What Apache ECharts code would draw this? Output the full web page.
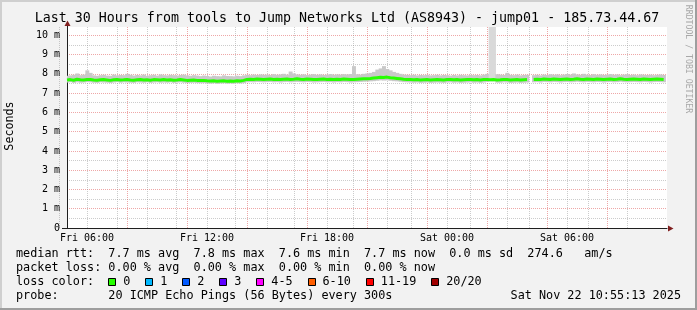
<!DOCTYPE html>
<html><head><meta charset="utf-8">
<script src="https://cdn.jsdelivr.net/npm/echarts@6/dist/echarts.min.js"></script>
<style>html,body{margin:0;padding:0;background:#f2f2f2}#c{width:697px;height:310px}</style>
</head><body><div id="c"></div>
<script>
// ---- data (values in ms) ----
const titleText = 'Last 30 Hours from tools to Jump Networks Ltd (AS8943) - jump01 - 185.73.44.67';
const tickLabels = ['Fri 06:00', 'Fri 12:00', 'Fri 18:00', 'Sat 00:00', 'Sat 06:00'];
const startHour = -1;          // hours relative to Fri 06:00
const stepMinutes = 10;
const median = [
7.68,7.70,7.67,7.72,7.69,7.68,7.70,7.71,7.68,7.67,
7.69,7.70,7.68,7.66,7.69,7.70,7.68,7.69,7.71,7.68,
7.67,7.69,7.70,7.68,7.69,7.67,7.70,7.69,7.68,7.70,
7.68,7.69,7.67,7.68,7.70,7.68,7.66,7.67,7.68,7.66,
7.65,7.66,7.64,7.63,7.64,7.62,7.63,7.64,7.62,7.63,
7.62,7.64,7.63,7.66,7.71,7.72,7.71,7.73,7.72,7.71,
7.72,7.73,7.71,7.72,7.70,7.72,7.73,7.71,7.72,7.74,
7.72,7.71,7.73,7.72,7.70,7.71,7.72,7.73,7.71,7.72,
7.70,7.72,7.71,7.73,7.72,7.70,7.71,7.72,7.73,7.74,
7.75,7.76,7.78,7.80,7.82,7.81,7.83,7.80,7.78,7.76,
7.74,7.72,7.71,7.70,7.69,7.70,7.68,7.69,7.70,7.68,
7.69,7.70,7.69,7.68,7.70,7.71,7.69,7.70,7.68,7.69,
7.70,7.71,7.69,7.70,7.68,7.70,7.71,7.69,7.70,7.68,
7.69,7.71,7.70,7.68,7.69,7.70,7.68,7.69,7.70,null,
7.71,7.72,7.70,7.73,7.72,7.71,7.73,7.72,7.70,7.72,
7.73,7.71,7.72,7.74,7.72,7.71,7.73,7.72,7.71,7.73,
7.72,7.70,7.72,7.73,7.71,7.72,7.74,7.72,7.71,7.72,
7.73,7.72,7.71,7.73,7.72,7.70,7.72,7.73,7.72,7.71
];
const smokeHi = [
7.90,7.92,7.95,8.02,7.93,7.96,8.18,8.05,7.92,7.90,
7.93,7.95,7.91,7.90,7.96,7.92,7.94,7.93,8.00,7.95,
7.91,7.94,7.92,7.96,7.90,7.93,7.95,7.91,7.97,7.93,
7.92,7.95,7.93,7.91,7.94,7.96,7.92,7.90,7.93,7.91,
7.88,7.91,7.89,7.86,7.90,7.88,7.87,7.92,7.89,7.88,
7.87,7.90,7.88,7.92,7.95,7.93,7.96,7.94,7.97,7.95,
7.96,7.94,7.98,7.95,7.97,8.00,7.96,8.12,8.02,7.97,
7.95,7.97,7.94,7.96,7.98,7.95,7.97,7.94,7.96,7.99,
7.95,7.97,7.96,7.98,7.97,7.99,8.40,7.98,7.96,8.00,
8.02,8.05,8.10,8.22,8.28,8.40,8.25,8.18,8.10,8.05,
8.00,7.96,7.95,7.93,7.95,7.92,7.94,7.93,7.95,7.92,
7.93,7.95,7.92,7.94,7.93,7.91,7.94,7.92,7.95,7.93,
7.92,7.95,7.93,7.94,7.92,7.96,8.00,10.43,10.43,7.98,
7.96,7.94,8.05,7.95,7.93,7.96,7.92,7.94,7.95,null,
7.93,7.95,7.92,7.96,7.94,7.98,7.95,7.97,7.93,7.96,
7.99,7.96,8.02,7.97,7.95,8.00,7.96,7.94,7.98,7.95,
7.97,7.94,7.96,7.99,7.95,7.97,7.93,7.96,7.98,7.94,
7.96,7.93,7.97,7.95,7.94,7.96,7.93,7.95,7.97,7.94
];
const smokeLo = [
7.55,7.57,7.53,7.56,7.54,7.55,7.57,7.56,7.54,7.53,
7.56,7.55,7.54,7.52,7.55,7.57,7.54,7.56,7.55,7.54,
7.53,7.56,7.55,7.54,7.56,7.53,7.55,7.56,7.54,7.55,
7.54,7.56,7.53,7.55,7.56,7.54,7.52,7.53,7.54,7.52,
7.51,7.52,7.50,7.49,7.51,7.48,7.50,7.51,7.49,7.50,
7.49,7.51,7.50,7.52,7.56,7.57,7.56,7.58,7.57,7.56,
7.57,7.58,7.56,7.57,7.55,7.57,7.58,7.56,7.57,7.58,
7.57,7.56,7.58,7.57,7.55,7.56,7.57,7.58,7.56,7.57,
7.55,7.57,7.56,7.58,7.57,7.55,7.56,7.57,7.58,7.59,
7.60,7.61,7.62,7.64,7.66,7.65,7.66,7.64,7.62,7.61,
7.59,7.57,7.56,7.55,7.54,7.55,7.53,7.54,7.55,7.53,
7.54,7.55,7.54,7.53,7.55,7.56,7.54,7.55,7.53,7.54,
7.55,7.56,7.54,7.55,7.53,7.55,7.58,7.60,7.60,7.54,
7.54,7.56,7.55,7.53,7.54,7.55,7.53,7.54,7.55,null,
7.56,7.57,7.55,7.58,7.57,7.56,7.58,7.57,7.55,7.57,
7.58,7.56,7.57,7.59,7.57,7.56,7.58,7.57,7.56,7.58,
7.57,7.55,7.57,7.58,7.56,7.57,7.59,7.57,7.56,7.57,
7.58,7.57,7.56,7.58,7.57,7.55,7.57,7.58,7.57,7.56
];
const lossLabels = ['0', '1', '2', '3', '4-5', '6-10', '11-19', '20/20'];
const lossColors = ['#26ff00', '#00b8ff', '#0059ff', '#5e00ff', '#ff00ff', '#ff5e00', '#ff0000', '#a10000'];
const statLines = [
  'median rtt:  7.7 ms avg  7.8 ms max  7.6 ms min  7.7 ms now  0.0 ms sd  274.6   am/s',
  'packet loss: 0.00 % avg  0.00 % max  0.00 % min  0.00 % now',
  'loss color:',
  'probe:       20 ICMP Echo Pings (56 Bytes) every 300s'
];
const dateText = 'Sat Nov 22 10:55:13 2025';

// ---- build ----
const MONO = "'DejaVu Sans Mono', monospace";
const X_MIN = -1, X_MAX = 29, Y_MAX = 10.43;
const PX_H = 20;                       // pixels per hour
const G = { left: 67, top: 27, width: (X_MAX - X_MIN) * PX_H, height: 201 };
const pxPerMs = G.height / Y_MAX;
const xs = median.map((_, i) => startHour + i * stepMinutes / 60);
const halfStep = stepMinutes / 120;
const medianData = median.map((v, i) => [xs[i], v]);
const smokeData = smokeHi.map((v, i) => [xs[i], smokeLo[i] == null ? '-' : smokeLo[i], v == null ? '-' : v]);

const MGRID = 'rgba(222,79,79,0.5)';
const GRID = 'rgba(143,143,143,0.45)';
const hiddenAxis = (extra) => Object.assign({ show: true, axisLine: { show: false }, axisTick: { show: false }, axisLabel: { show: false }, splitLine: { show: false } }, extra);

// helper grids whose own tick origin lines up with 3-hour steps
// red (major) lines on hours 0,3,6..; grey lines on hours 1,4,7.. and 2,5,8..
const shifts = [3, 2, 4];
const grids = [Object.assign({ show: true, backgroundColor: '#ffffff', borderWidth: 0 }, G)];
const xAxes = [{
  gridIndex: 0, type: 'value', min: X_MIN, max: X_MAX, interval: 1,
  axisLine: { show: true, onZero: false, lineStyle: { color: '#1f1f1f', width: 1 } },
  axisTick: { show: false },
  axisLabel: { margin: 5, color: '#000', fontFamily: MONO, fontSize: 10,
    formatter: v => (v >= 0 && Math.abs(v % 6) < 1e-9) ? (tickLabels[Math.round(v / 6)] || '') : '' },
  splitLine: { show: false }
}];
const yAxes = [{
  gridIndex: 0, type: 'value', min: 0, max: Y_MAX, interval: 1,
  axisLine: { show: true, onZero: false, lineStyle: { color: '#1f1f1f', width: 1 } },
  axisTick: { show: false },
  axisLabel: { margin: 7, color: '#000', fontFamily: MONO, fontSize: 10,
    formatter: v => (Math.abs(v - Math.round(v)) < 1e-9) ? (v === 0 ? '0' : Math.round(v) + ' m') : '' },
  splitLine: { show: true, showMinLine: false, showMaxLine: false, lineStyle: { type: [1, 1], width: 1, color: MGRID } }
}];
shifts.forEach((s, k) => {
  grids.push({ show: false, left: G.left - s * PX_H, top: G.top, width: (X_MAX + s) * PX_H, height: G.height });
  xAxes.push(hiddenAxis({ gridIndex: k + 1, type: 'value', min: 0, max: X_MAX + s, interval: 3,
    splitLine: { show: true, showMinLine: false, showMaxLine: false, lineStyle: { type: [1, 1], width: 1, color: k === 0 ? MGRID : GRID } } }));
  yAxes.push(hiddenAxis({ gridIndex: k + 1, type: 'value', min: 0, max: Y_MAX }));
});
// half-ms grey lines: grid shifted down by 0.5 ms
grids.push({ show: false, left: G.left, top: G.top, width: G.width, height: G.height + 0.5 * pxPerMs });
xAxes.push(hiddenAxis({ gridIndex: 4, type: 'value', min: X_MIN, max: X_MAX }));
yAxes.push(hiddenAxis({ gridIndex: 4, type: 'value', min: 0, max: Y_MAX + 0.5, interval: 1,
  splitLine: { show: true, showMinLine: false, showMaxLine: false, lineStyle: { type: [1, 1], width: 1, color: GRID } } }));

const graphic = [];
graphic.push({ type: 'rect', shape: { x: 0, y: 0, width: 697, height: 2 }, style: { fill: '#cfcfcf' }, silent: true });
graphic.push({ type: 'rect', shape: { x: 0, y: 0, width: 2, height: 310 }, style: { fill: '#cfcfcf' }, silent: true });
graphic.push({ type: 'rect', shape: { x: 695, y: 0, width: 2, height: 310 }, style: { fill: '#9e9e9e' }, silent: true });
graphic.push({ type: 'rect', shape: { x: 0, y: 308, width: 697, height: 2 }, style: { fill: '#9e9e9e' }, silent: true });
graphic.push({ type: 'text', x: 347, y: 19, style: { text: titleText, font: '13.3px ' + MONO, fill: '#000', align: 'center', verticalAlign: 'middle' }, silent: true });
graphic.push({ type: 'text', x: 688, y: 59, rotation: -Math.PI / 2, style: { text: 'RRDTOOL / TOBI OETIKER', font: '8.2px ' + MONO, fill: '#a8a8a8', align: 'center', verticalAlign: 'middle' }, silent: true });
graphic.push({ type: 'text', x: 10, y: 126, rotation: Math.PI / 2, style: { text: 'Seconds', font: '11.7px ' + MONO, fill: '#000', align: 'center', verticalAlign: 'middle' }, silent: true });
graphic.push({ type: 'line', shape: { x1: 62, y1: 228.5, x2: 67, y2: 228.5 }, style: { stroke: '#1f1f1f', lineWidth: 1 }, silent: true });
graphic.push({ type: 'line', shape: { x1: 67.5, y1: 23, x2: 67.5, y2: 27.5 }, style: { stroke: '#1f1f1f', lineWidth: 1 }, silent: true });
graphic.push({ type: 'polygon', shape: { points: [[64.5, 26], [67.5, 20.5], [70.5, 26]] }, style: { fill: '#801f1f' }, silent: true, z: 10 });
graphic.push({ type: 'polygon', shape: { points: [[668, 225.5], [673.5, 228.5], [668, 231.5]] }, style: { fill: '#801f1f' }, silent: true, z: 10 });
const lineY = [254.3, 268.2, 282.1, 296];
statLines.forEach((t, k) => {
  graphic.push({ type: 'text', x: 16, y: lineY[k], style: { text: t, font: '11.8px ' + MONO, fill: '#000', align: 'left', verticalAlign: 'middle' }, silent: true });
});
graphic.push({ type: 'text', x: 681, y: lineY[3], style: { text: dateText, font: '11.8px ' + MONO, fill: '#000', align: 'right', verticalAlign: 'middle' }, silent: true });
let lx = 108.3;
lossLabels.forEach((lab, k) => {
  const bx = Math.round(lx) + 0.5;
  graphic.push({ type: 'rect', shape: { x: bx, y: 278.5, width: 7, height: 7 }, style: { fill: lossColors[k], stroke: '#000', lineWidth: 1 }, silent: true });
  graphic.push({ type: 'text', x: lx + 15, y: lineY[2], style: { text: lab, font: '11.8px ' + MONO, fill: '#000', align: 'left', verticalAlign: 'middle' }, silent: true });
  lx += 15 + 7.1 * lab.length + 14.9;
});

const chart = echarts.init(document.getElementById('c'), null, { renderer: 'canvas' });
chart.setOption({
  animation: false,
  backgroundColor: '#f2f2f2',
  grid: grids,
  xAxis: xAxes,
  yAxis: yAxes,
  graphic: graphic,
  series: [
    {
      name: 'smoke', type: 'custom', xAxisIndex: 0, yAxisIndex: 0, data: smokeData,
      encode: { x: 0, y: [1, 2] }, silent: true, z: 2, clip: true,
      renderItem: (params, api) => {
        const x = api.value(0), lo = api.value(1), hi = api.value(2);
        if (isNaN(lo) || isNaN(hi)) return null;
        const a = api.coord([x - halfStep, hi]);
        const b = api.coord([x + halfStep, lo]);
        const tall = hi - lo > 1;
        return { type: 'rect', shape: { x: a[0], y: a[1], width: b[0] - a[0] + 0.6, height: b[1] - a[1] }, style: { fill: tall ? '#d9d9d9' : '#c9c9c9' } };
      }
    },
    { name: 'median', type: 'line', xAxisIndex: 0, yAxisIndex: 0, data: medianData, symbol: 'none', lineStyle: { color: '#26ff00', width: 3 }, silent: true, z: 3 }
  ]
});
</script></body></html>
